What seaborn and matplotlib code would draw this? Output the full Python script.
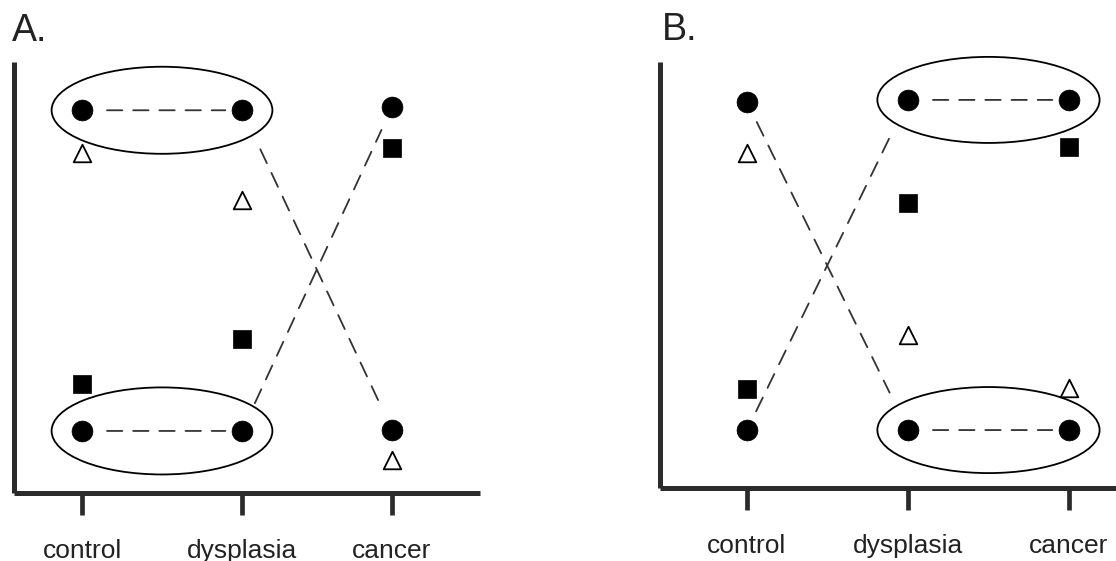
import matplotlib
matplotlib.use("Agg")
import matplotlib.pyplot as plt
from matplotlib.patches import Ellipse
import seaborn as sns
import numpy as np

sns.set_style("white")
plt.rcParams['font.family'] = ['Liberation Sans', 'DejaVu Sans']

# ---------------- data ----------------
categories = ["control", "dysplasia", "cancer"]

# Panel A
circle_high_A = [8.88, 8.88, 8.95]
circle_low_A = [1.44, 1.44, 1.47]
triangle_A = [7.88, 6.79, 0.77]
square_A = [2.53, 3.58, 8.00]

# Panel B
circle_high_B = [9.06, 9.11, 9.11]
circle_low_B = [1.36, 1.36, 1.36]
triangle_B = [7.86, 3.59, 2.35]
square_B = [2.32, 6.69, 8.00]

# category positions on the x axis (layout)
pos_A = [0.0, 1.0, 1.9375]
pos_B = [0.0, 1.0, 2.0]

DASH = (0, (8.5, 6))
LINE_COL = "#333333"
SPINE_COL = "#2b2b2b"


def dashed(ax, p0, p1, sa, sb):
    ax.annotate("", xy=p1, xytext=p0,
                arrowprops=dict(arrowstyle="-", linestyle=DASH, lw=1.3,
                                color=LINE_COL, shrinkA=sa, shrinkB=sb),
                zorder=2, annotation_clip=False)


def panel(ax, pos, hi, lo, tri, sq, xlim, pair, diag, shrinks):
    # markers
    sns.scatterplot(x=pos, y=hi, marker="o", s=225, color="black",
                    edgecolor="black", linewidth=0.5, ax=ax, zorder=3, clip_on=False)
    sns.scatterplot(x=pos, y=lo, marker="o", s=225, color="black",
                    edgecolor="black", linewidth=0.5, ax=ax, zorder=3, clip_on=False)
    sns.scatterplot(x=pos, y=sq, marker="s", s=185, color="black",
                    edgecolor="black", linewidth=0.5, ax=ax, zorder=3, clip_on=False)
    sns.scatterplot(x=pos, y=tri, marker="^", s=160, color="white",
                    edgecolor="black", linewidth=1.3, ax=ax, zorder=3, clip_on=False)

    i, j = pair
    # horizontal dashed lines inside ellipses + ellipses
    for series in (hi, lo):
        dashed(ax, (pos[i], series[i]), (pos[j], series[j]), 18, 12)
        cx = (pos[i] + pos[j]) / 2
        cy = (series[i] + series[j]) / 2
        ax.add_patch(Ellipse((cx, cy), width=(pos[j] - pos[i]) * 1.38,
                             height=2.02, fill=False, ec="black", lw=1.3,
                             zorder=2, clip_on=False))

    # crossing diagonal dashed lines
    a, b = diag
    (s1a, s1b), (s2a, s2b) = shrinks
    dashed(ax, (pos[a], hi[a]), (pos[b], lo[b]), s1a, s1b)
    dashed(ax, (pos[a], lo[a]), (pos[b], hi[b]), s2a, s2b)

    ax.set_xlim(*xlim)
    ax.set_ylim(0, 10)
    ax.set_xticks(pos)
    ax.set_xticklabels(categories, fontsize=19, color="#222222")
    ax.set_yticks([])
    ax.tick_params(axis="x", length=16, width=3.4, direction="out",
                   color=SPINE_COL, pad=17, bottom=True)
    for s in ("top", "right"):
        ax.spines[s].set_visible(False)
    for s in ("left", "bottom"):
        ax.spines[s].set_linewidth(3.6)
        ax.spines[s].set_color(SPINE_COL)
        ax.spines[s].set_capstyle("butt")
    ax.set_xlabel("")
    ax.set_ylabel("")
    ax.patch.set_alpha(0)


fig = plt.figure(figsize=(11.16, 5.61), dpi=100)
W, H = 1116, 561
axA = fig.add_axes([14 / W, (H - 493) / H, 466 / W, 431 / H])
axB = fig.add_axes([660 / W, (H - 488) / H, 456 / W, 426 / H])

panel(axA, pos_A, circle_high_A, circle_low_A, triangle_A, square_A,
      (-0.425, 2.4875), (0, 1), (1, 2), ((31, 17), (22, 18)))
panel(axB, pos_B, circle_high_B, circle_low_B, triangle_B, square_B,
      (-0.54, 2.292), (1, 2), (0, 1), ((16, 30), (15, 25)))

fig.text(12 / W, (H - 41) / H, "A.", fontsize=27, ha="left", va="baseline", color="#222222")
fig.text(662 / W, (H - 40) / H, "B.", fontsize=27, ha="left", va="baseline", color="#222222")

fig.savefig("out.png", dpi=100)
